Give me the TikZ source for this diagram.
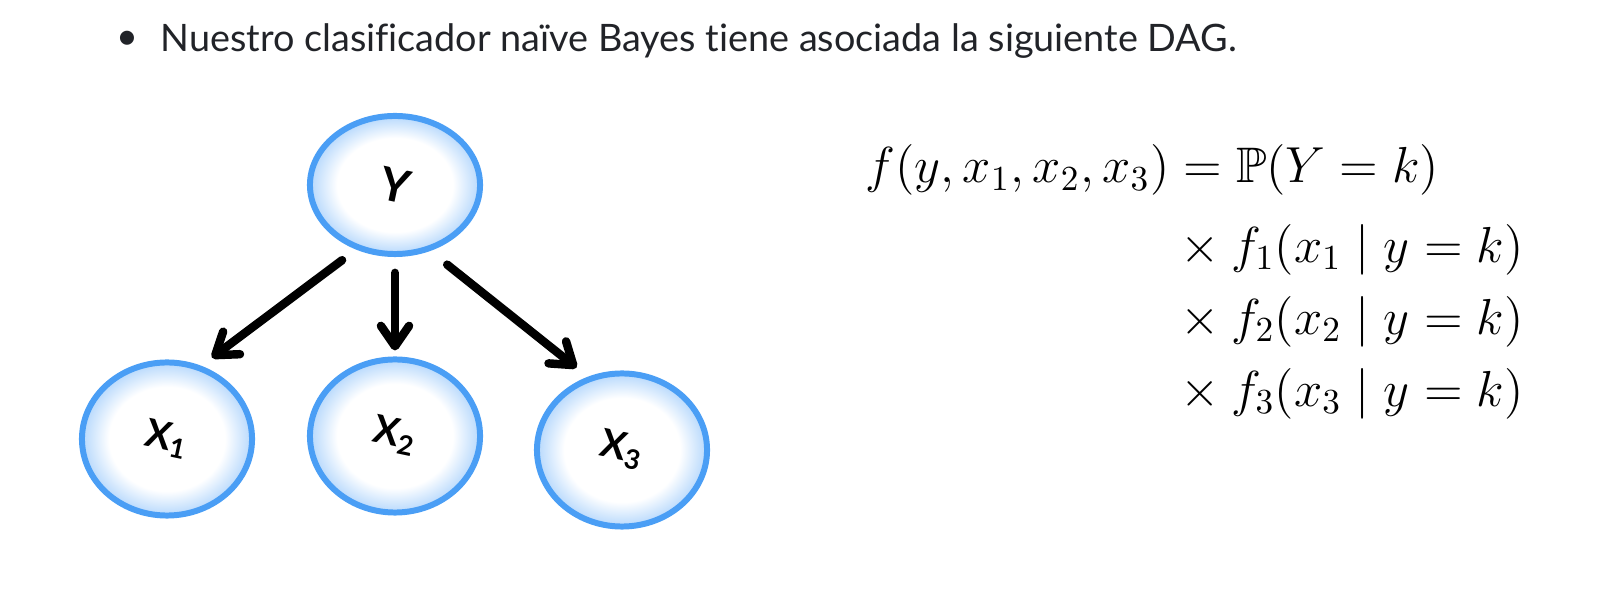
\documentclass[tikz,border=0pt]{standalone}
\usepackage{amsmath,amssymb}
\usepackage{fontspec}
\setmainfont{Lato}[Ligatures=NoCommon]
\usetikzlibrary{shapes.geometric,arrows.meta}
\definecolor{nodeblue}{RGB}{74,158,245}
\definecolor{glowblue}{RGB}{182,216,252}
\definecolor{headtext}{RGB}{33,35,40}
\pgfdeclareradialshading{nodeglow}{\pgfpoint{0bp}{0bp}}{color(0bp)=(white); color(17bp)=(white); color(25bp)=(glowblue); color(50bp)=(glowblue)}
\tikzset{
  var/.style={ellipse, draw=nodeblue, line width=1.7pt, shade, shading=nodeglow,
    minimum width=1.70cm, minimum height=1.53cm, inner sep=0pt, text=black,
    font=\fontsize{11}{11}\selectfont\bfseries},
  depedge/.style={line width=2.4pt, line cap=round,
    -{Straight Barb[length=5.8pt,width=8pt,round]}},
}
\begin{document}
\begin{tikzpicture}[x=0.01cm, y=-0.01cm]
\useasboundingbox (0,0) rectangle (1618,610);
% heading
\node[text=headtext, font=\fontsize{10.75}{12}\selectfont, inner sep=0pt] (bullet) at (127,40) {\textbullet};
\node[anchor=base west, text=headtext, font=\fontsize{10.75}{12}\selectfont, inner sep=0pt] (head) at (160,52)
  {Nuestro clasificador naïve Bayes tiene asociada la siguiente DAG.};
% DAG
\node[var, minimum height=1.38cm] (Y) at (395,185) {\rotatebox{-12}{\fontsize{13}{13}\selectfont Y}};
\node[var] (X1) at (167,439) {\rotatebox{-12}{X\textsubscript{1}}};
\node[var] (X2) at (395,436) {\rotatebox{-12}{X\textsubscript{2}}};
\node[var] (X3) at (622,450) {\rotatebox{-12}{X\textsubscript{3}}};
\draw[depedge, shorten <=5pt, shorten >=3.8pt] (Y.239) -- (X1.65);
\draw[depedge, shorten <=4.5pt, shorten >=1.7pt] (Y.270) -- (X2.90);
\draw[depedge, shorten <=6.2pt, shorten >=4.1pt] (Y.298) -- (X3.115);
% formula
\node[anchor=base west, inner sep=0pt, font=\fontsize{14.2}{20.5}\selectfont] (eq) at (865,183)
  {\setlength{\jot}{0pt}$\begin{aligned}[t]
   f(y,x_1,x_2,x_3) &= \mathbb{P}(Y=k)\\[2pt]
   &\times f_1(x_1\mid y=k)\\
   &\times f_2(x_2\mid y=k)\\
   &\times f_3(x_3\mid y=k)
  \end{aligned}$};
\end{tikzpicture}
\end{document}
